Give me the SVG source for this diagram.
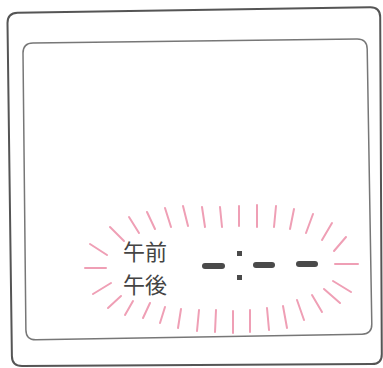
<svg xmlns="http://www.w3.org/2000/svg" width="383" height="368" viewBox="0 0 383 368">
<style>
.frame{fill:none;stroke:#555;stroke-width:2}
.screen{fill:none;stroke:#777;stroke-width:1.5}
.ray{stroke:#ef9fb5;stroke-width:2;stroke-linecap:round;fill:none}
.seg{fill:#4a4a4a}
.lbl{font-family:"Noto Sans CJK JP","Noto Sans CJK SC",sans-serif;font-size:22px;fill:#444}
</style>
<rect width="383" height="368" fill="#fff"/>
<g id="frame">
<path class="frame" d="M 7.5 23 Q 7.5 13 17.5 12.8 L 370 7.2 Q 380 7 380.2 17 L 381.8 354 Q 382 364 372 364.1 L 22 366 Q 12 366 11.9 356 Z"/>
</g>
<g id="screen">
<path class="screen" d="M 23 53 Q 23 43 33 42.9 L 357 39.1 Q 367 39 367.2 49 L 371.8 324 Q 372 334 362 334.2 L 36 339.8 Q 26 340 25.9 330 Z"/>
</g>
<g id="rays">
<line class="ray" x1="110" y1="227" x2="124" y2="241"/>
<line class="ray" x1="129" y1="217" x2="139" y2="233"/>
<line class="ray" x1="147" y1="212" x2="155" y2="229"/>
<line class="ray" x1="165" y1="208" x2="171" y2="227"/>
<line class="ray" x1="183" y1="206" x2="188" y2="226"/>
<line class="ray" x1="202" y1="207" x2="205" y2="227"/>
<line class="ray" x1="220" y1="207" x2="222" y2="227"/>
<line class="ray" x1="239" y1="206" x2="239" y2="226"/>
<line class="ray" x1="257" y1="205" x2="257" y2="227"/>
<line class="ray" x1="276" y1="206" x2="274" y2="227"/>
<line class="ray" x1="294" y1="209" x2="290" y2="229"/>
<line class="ray" x1="313" y1="214" x2="306" y2="233"/>
<line class="ray" x1="332" y1="223" x2="322" y2="240"/>
<line class="ray" x1="346" y1="237" x2="334" y2="251"/>
<line class="ray" x1="358" y1="264" x2="335" y2="264"/>
<line class="ray" x1="351" y1="292" x2="333" y2="281"/>
<line class="ray" x1="340" y1="303" x2="324" y2="289"/>
<line class="ray" x1="322" y1="312" x2="312" y2="295"/>
<line class="ray" x1="304" y1="320" x2="297" y2="300"/>
<line class="ray" x1="287" y1="328" x2="283" y2="306"/>
<line class="ray" x1="269" y1="330" x2="267" y2="308"/>
<line class="ray" x1="250" y1="332" x2="250" y2="310"/>
<line class="ray" x1="233" y1="333" x2="233" y2="311"/>
<line class="ray" x1="215" y1="332" x2="216" y2="310"/>
<line class="ray" x1="197" y1="331" x2="199" y2="310"/>
<line class="ray" x1="178" y1="328" x2="181" y2="309"/>
<line class="ray" x1="160" y1="323" x2="165" y2="307"/>
<line class="ray" x1="143" y1="318" x2="150" y2="303"/>
<line class="ray" x1="125" y1="315" x2="133" y2="301"/>
<line class="ray" x1="108" y1="308" x2="121" y2="296"/>
<line class="ray" x1="93" y1="294" x2="111" y2="283"/>
<line class="ray" x1="85" y1="268" x2="106" y2="268"/>
<line class="ray" x1="90" y1="244" x2="107" y2="255"/>
</g>
<g id="labels">
<text class="lbl" x="123" y="260">午前</text>
<text class="lbl" x="123" y="293">午後</text>
</g>
<g id="display">
<rect class="seg" x="202" y="263" width="23" height="6" rx="3"/>
<rect class="seg" x="237" y="251" width="5" height="5"/>
<rect class="seg" x="237" y="275" width="5" height="5"/>
<rect class="seg" x="253" y="262" width="22" height="6" rx="3"/>
<rect class="seg" x="296" y="261" width="22" height="6" rx="3"/>
</g>
</svg>
